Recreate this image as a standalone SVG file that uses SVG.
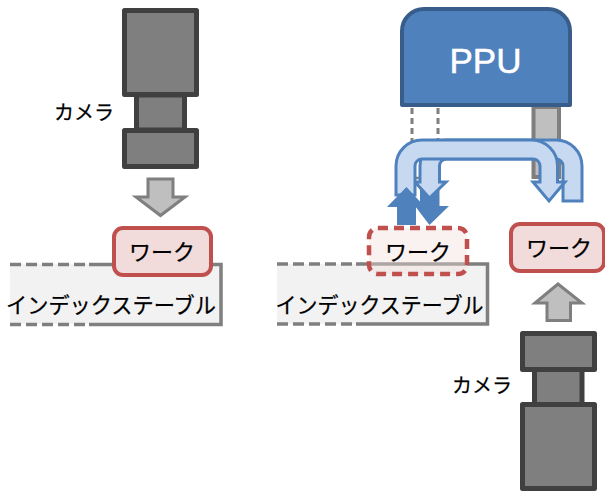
<svg xmlns="http://www.w3.org/2000/svg" width="605" height="491" viewBox="0 0 605 491">
<style>
.cam{fill:#7f7f7f;stroke:#404040;stroke-width:5;stroke-linejoin:round}
.gray{fill:#bfbfbf;stroke:#7f7f7f;stroke-width:3;stroke-linejoin:miter}
.work{fill:#f2dcdb;stroke:#c0504d;stroke-width:4}
.workd{fill:#f2dcdb;fill-opacity:.4;stroke:#c0504d;stroke-width:4.500;stroke-dasharray:10 6}
.tf{fill:#f2f2f2}
.ts{fill:none;stroke:#7f7f7f;stroke-width:3.5}
.td{fill:none;stroke:#7f7f7f;stroke-width:3.5;stroke-dasharray:11 5}
.vd{fill:none;stroke:#7f7f7f;stroke-width:3;stroke-dasharray:6 4}
.bent{fill:#c6d9f1;stroke:#4f81bd;stroke-width:3;stroke-linejoin:miter}
.dark{fill:#4f81bd;stroke:none}
text{font-family:"Noto Sans CJK JP","Liberation Sans",sans-serif;fill:#000;stroke:#000;stroke-width:.25}
.lbl{font-size:22px;text-anchor:middle}
.cap{font-size:20px;text-anchor:middle}
.tbl{font-size:22px;text-anchor:middle}
.ppu{font-family:"Liberation Sans",sans-serif;font-size:35px;fill:#fff;stroke:#fff;stroke-width:.5;text-anchor:middle}
</style>
<g id="camera-left">
<rect class="cam" x="136.500" y="95" width="48" height="35"/>
<rect class="cam" x="124.500" y="10.500" width="72" height="84"/>
<rect class="cam" x="124.500" y="130.500" width="72" height="36"/>
<text class="cap" x="84" y="120">カメラ</text>
</g>
<g id="table-left">
<rect class="tf" x="10" y="264" width="212" height="60"/>
<path class="td" d="M10 264.500H89M10 324.500H89"/>
<path class="ts" d="M89 264.500H221V324.500H89"/>
<text class="tbl" x="111" y="313" textLength="210" lengthAdjust="spacingAndGlyphs">インデックステーブル</text>
</g>
<g id="work-left">
<rect class="work" x="114" y="228" width="97" height="47" rx="9"/>
<text class="lbl" x="162" y="260">ワーク</text>
</g>
<g id="arrow-left"><path class="gray" d="M148 179H173V197H185L160.500 215.500 136 197H148Z"/></g>
<g id="sensor-mid">
<path class="vd" d="M412 108V176M438 108V176"/>
<path d="M414 178H424" stroke="#7f7f7f" stroke-width="2.500" fill="none"/>
</g>
<g id="table-mid">
<rect class="tf" x="277" y="264" width="211" height="60"/>
<path class="td" d="M277 264H356M277 324H356"/>
<path class="ts" d="M356 264H487.500V324H356"/>
<text class="tbl" x="379.500" y="313" textLength="208" lengthAdjust="spacingAndGlyphs">インデックステーブル</text>
</g>
<g id="work-mid">
<rect class="workd" x="369" y="228" width="98" height="46" rx="9"/>
<text class="lbl" x="418" y="260">ワーク</text>
</g>
<g id="sensor-right"><path d="M533.500 107V177H559V107Z" fill="#bfbfbf" stroke="#7f7f7f" stroke-width="4"/></g>
<g id="ppu">
<path d="M402 105V31A22 22 0 0 1 424 9H548A22 22 0 0 1 570 31V105Z" fill="#4f81bd" stroke="#385d8a" stroke-width="4" stroke-linejoin="round"/>
<text class="ppu" x="485.500" y="73">PPU</text>
</g>
<g id="connectors">
<path class="dark" d="M420 183H439.500V206H449L429.500 225 415 206H420Z"/>
<path class="bent" d="M582 201V166A26 26 0 0 0 556 140H446A26 26 0 0 0 420 166V182H415L429.500 198 446 182H439.500V166A7 7 0 0 1 446.500 159H556A7 7 0 0 1 563 166V201Z"/>
<path class="bent" d="M396 195V166A26 26 0 0 1 422 140H532A26 26 0 0 1 557.500 166V182H565L549 201 533 182H540V166A7 7 0 0 0 533 159H422A7 7 0 0 0 415 166V195Z"/>
<path class="dark" d="M397 225V207H387L406.500 187 425 207H416V225Z"/>
</g>
<g id="work-right">
<rect class="work" x="511" y="224" width="93" height="47" rx="9"/>
<text class="lbl" x="559" y="256">ワーク</text>
</g>
<g id="arrow-right"><path class="gray" d="M547 320.500H570.500V303H582L558 284 535 303H547Z"/></g>
<g id="camera-right">
<rect class="cam" x="534.500" y="369" width="47.500" height="36"/>
<rect class="cam" x="522.500" y="333.500" width="72" height="36"/>
<rect class="cam" x="522.500" y="404.500" width="72" height="84"/>
<text class="cap" x="482" y="393">カメラ</text>
</g>
</svg>
